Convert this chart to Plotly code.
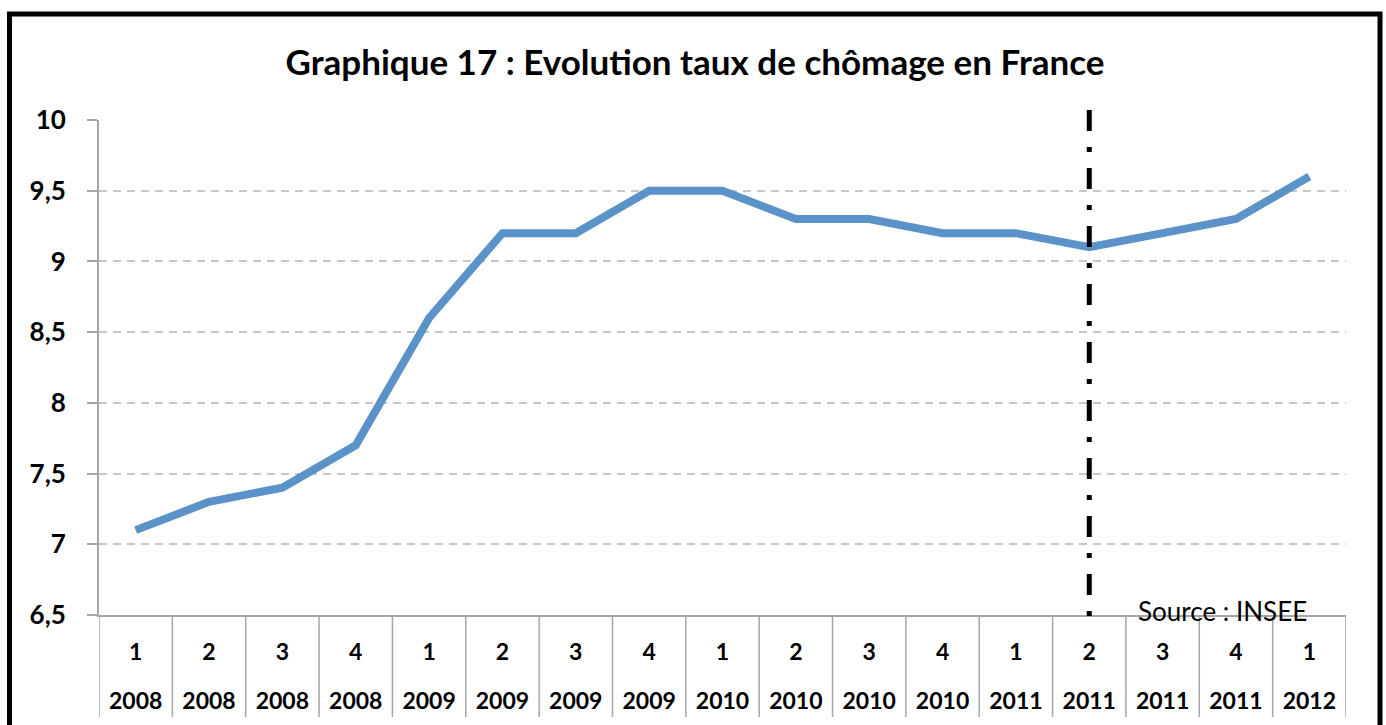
import plotly.graph_objects as go

# Quarterly unemployment rate in France (%), INSEE
quarters = ["1", "2", "3", "4", "1", "2", "3", "4", "1", "2", "3", "4", "1", "2", "3", "4", "1"]
years = ["2008", "2008", "2008", "2008", "2009", "2009", "2009", "2009",
         "2010", "2010", "2010", "2010", "2011", "2011", "2011", "2011", "2012"]
rates = [7.1, 7.3, 7.4, 7.7, 8.6, 9.2, 9.2, 9.5, 9.5, 9.3, 9.3, 9.2, 9.2, 9.1, 9.2, 9.3, 9.6]

y_ticks = [6.5, 7, 7.5, 8, 8.5, 9, 9.5, 10]
y_tick_text = ["6,5", "7", "7,5", "8", "8,5", "9", "9,5", "10"]

marker_index = 13  # 2nd quarter 2011

W, H = 1386, 725
L, R, T, B = 99, 40, 120, 110
plot_w, plot_h = W - L - R, H - T - B


def px_x(xp):
    return (xp - L) / plot_w


def px_y(yp):
    return (H - B - yp) / plot_h


FONT = "Lato"
GRAY = "#A6A6A6"

x_idx = list(range(len(rates)))
fig = go.Figure()
fig.add_trace(go.Scatter(
    x=x_idx, y=rates, mode="lines",
    line=dict(color="#5B93C9", width=8),
    hoverinfo="skip", showlegend=False,
))
# same series bound to the year axis so that axis is drawn (invisible)
fig.add_trace(go.Scatter(
    x=x_idx, y=rates, xaxis="x2", mode="lines",
    line=dict(width=0), opacity=0,
    hoverinfo="skip", showlegend=False,
))

shapes = []
# column separators under the category axis
for i in range(len(rates) + 1):
    shapes.append(dict(type="line", xref="x", yref="paper",
                       x0=i - 0.5, x1=i - 0.5, y0=0, y1=px_y(717),
                       line=dict(color=GRAY, width=1.5)))
# vertical dash-dot marker
shapes.append(dict(type="line", xref="x", yref="paper",
                   x0=marker_index, x1=marker_index, y0=px_y(110), y1=px_y(628),
                   line=dict(color="black", width=5, dash="21px,16px,5px,16px")))
# outer frame
shapes.append(dict(type="rect", xref="paper", yref="paper",
                   x0=px_x(9.5), x1=px_x(1380), y0=px_y(740), y1=px_y(14),
                   line=dict(color="black", width=5), fillcolor="rgba(0,0,0,0)"))

x_range = [-0.5, len(rates) - 0.5]

fig.update_layout(
    width=W, height=H,
    margin=dict(l=L, r=R, t=T, b=B, autoexpand=False),
    paper_bgcolor="white", plot_bgcolor="white",
    title=dict(text="<b>Graphique 17 : Evolution taux de chômage en France</b>",
               x=px_x(695) * plot_w / W + L / W, xanchor="center",
               y=1 - 63 / H, yanchor="middle",
               font=dict(family=FONT, size=35, color="black")),
    xaxis=dict(
        range=x_range,
        tickmode="array", tickvals=x_idx,
        ticktext=[f"<b>{q}</b>" for q in quarters],
        tickfont=dict(family=FONT, size=23, color="black"),
        showgrid=False, zeroline=False,
        showline=True, linecolor=GRAY, linewidth=2,
        ticks="", ticklabelstandoff=15, automargin=False,
        fixedrange=True,
    ),
    xaxis2=dict(
        range=x_range, overlaying="x", side="bottom", anchor="y",
        tickmode="array", tickvals=x_idx,
        ticktext=[f"<b>{y}</b>" for y in years],
        tickfont=dict(family=FONT, size=23, color="black"),
        showgrid=False, zeroline=False, showline=False,
        ticks="", ticklabelstandoff=70, automargin=False,
        fixedrange=True,
    ),
    yaxis=dict(
        range=[6.5, 10],
        tickmode="array", tickvals=y_ticks,
        ticktext=[f"<b>{t}</b>" for t in y_tick_text],
        tickfont=dict(family=FONT, size=26, color="black"),
        showgrid=True, gridcolor="#C8C8C8", gridwidth=2, griddash="8px,6px",
        zeroline=False,
        showline=True, linecolor=GRAY, linewidth=2,
        ticks="outside", ticklen=10, tickcolor=GRAY, tickwidth=2,
        ticklabelstandoff=16, automargin=False,
        fixedrange=True,
    ),
    shapes=shapes,
    annotations=[dict(
        text="Source : INSEE", xref="paper", yref="paper",
        x=px_x(1222), y=px_y(611), xanchor="center", yanchor="middle",
        showarrow=False, font=dict(family=FONT, size=26, color="black"),
    )],
)

fig.write_html("out.html")
